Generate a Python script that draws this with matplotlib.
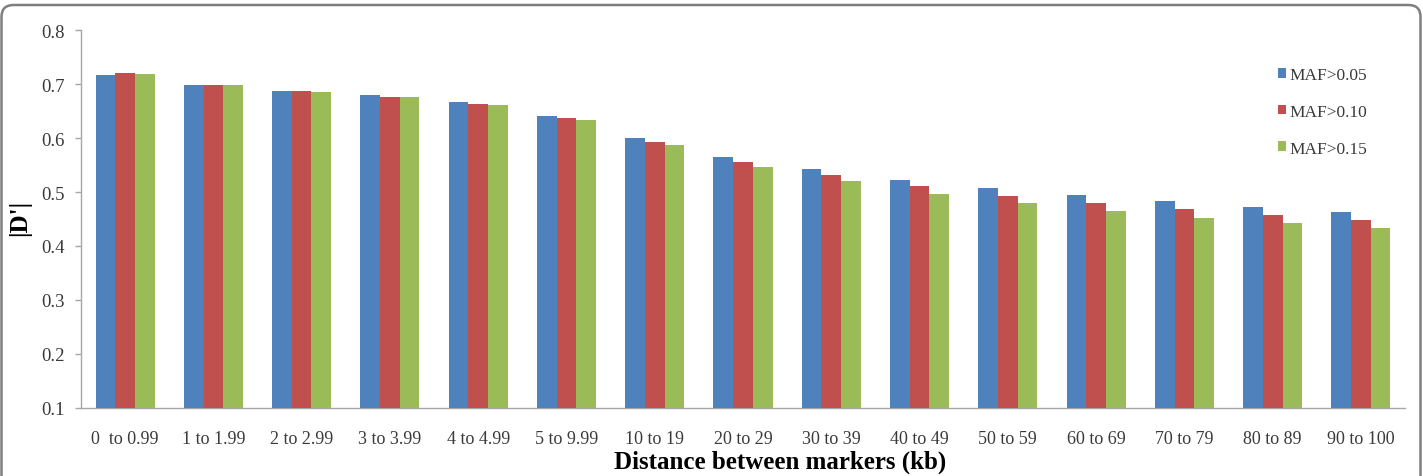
import matplotlib
matplotlib.use("Agg")
import matplotlib.pyplot as plt
import numpy as np
from matplotlib.patches import FancyBboxPatch
from matplotlib.transforms import IdentityTransform

# Data
categories = [
    "0  to 0.99", "1 to 1.99", "2 to 2.99", "3 to 3.99", "4 to 4.99",
    "5 to 9.99", "10 to 19", "20 to 29", "30 to 39", "40 to 49",
    "50 to 59", "60 to 69", "70 to 79", "80 to 89", "90 to 100",
]
maf_005 = [0.718, 0.699, 0.688, 0.680, 0.667, 0.642, 0.600, 0.565,
           0.542, 0.523, 0.508, 0.495, 0.483, 0.473, 0.463]
maf_010 = [0.721, 0.699, 0.688, 0.677, 0.663, 0.637, 0.593, 0.556,
           0.531, 0.511, 0.493, 0.479, 0.468, 0.458, 0.449]
maf_015 = [0.720, 0.698, 0.686, 0.676, 0.661, 0.633, 0.587, 0.547,
           0.520, 0.497, 0.480, 0.465, 0.452, 0.443, 0.433]
series_labels = ["MAF>0.05", "MAF>0.10", "MAF>0.15"]
y_ticks = [0.1, 0.2, 0.3, 0.4, 0.5, 0.6, 0.7, 0.8]

COLOR_BLUE = "#4F81BD"
COLOR_RED = "#C0504D"
COLOR_GREEN = "#9BBB59"
TEXT_COLOR = "#3A3A3A"
AXIS_COLOR = "#A6A6A6"

plt.rcParams["font.family"] = ["Liberation Serif", "DejaVu Serif"]

fig = plt.figure(figsize=(14.23, 4.77), dpi=100)
ax = fig.add_axes([0.0569, 0.1436, 0.9305, 0.7904])

x = np.arange(len(categories))
width = 0.223
for offset, vals, color, label in [
    (-width, maf_005, COLOR_BLUE, series_labels[0]),
    (0.0, maf_010, COLOR_RED, series_labels[1]),
    (width, maf_015, COLOR_GREEN, series_labels[2]),
]:
    ax.bar(x + offset, np.array(vals) - 0.1, width, bottom=0.1,
           color=color, label=label, zorder=3)

ax.set_xlim(-0.5, len(categories) - 0.5)
ax.set_ylim(0.1, 0.8)
ax.set_yticks(y_ticks)
ax.set_yticklabels([f"{t:.1f}" for t in y_ticks])
ax.set_xticks(x)
ax.set_xticklabels(categories)

for side in ["top", "right"]:
    ax.spines[side].set_visible(False)
ax.spines["left"].set_color(AXIS_COLOR)
ax.spines["bottom"].set_color(AXIS_COLOR)
ax.spines["left"].set_linewidth(1.0)
ax.spines["bottom"].set_linewidth(1.0)

ax.tick_params(axis="y", colors=AXIS_COLOR, labelcolor=TEXT_COLOR,
               labelsize=13.5, length=4, width=1, pad=8)
ax.tick_params(axis="x", length=0, labelcolor=TEXT_COLOR,
               labelsize=13, pad=16)

fig.text(20 / 1423, 1 - 218 / 477, "|D'|", rotation=90,
         ha="center", va="center", fontsize=18, fontweight="bold",
         color="black")
fig.text(780 / 1423, 1 - 462 / 477, "Distance between markers (kb)",
         ha="center", va="center", fontsize=18, fontweight="bold",
         color="black")

leg = ax.legend(
    loc="upper left", bbox_to_anchor=(0.892, 0.945),
    frameon=False, fontsize=12.5, handlelength=0.5, handleheight=0.5,
    handletextpad=0.15, labelspacing=1.2,
)
for t in leg.get_texts():
    t.set_color(TEXT_COLOR)

# rounded frame around the figure (bottom edge falls outside the image)
frame = FancyBboxPatch(
    (1.5, -30), 1419, 501,
    boxstyle="round,pad=0,rounding_size=12",
    transform=IdentityTransform(), fill=False,
    edgecolor="#7F7F7F", linewidth=1.8,
)
fig.patches.append(frame)

fig.savefig("out.png", dpi=100)
